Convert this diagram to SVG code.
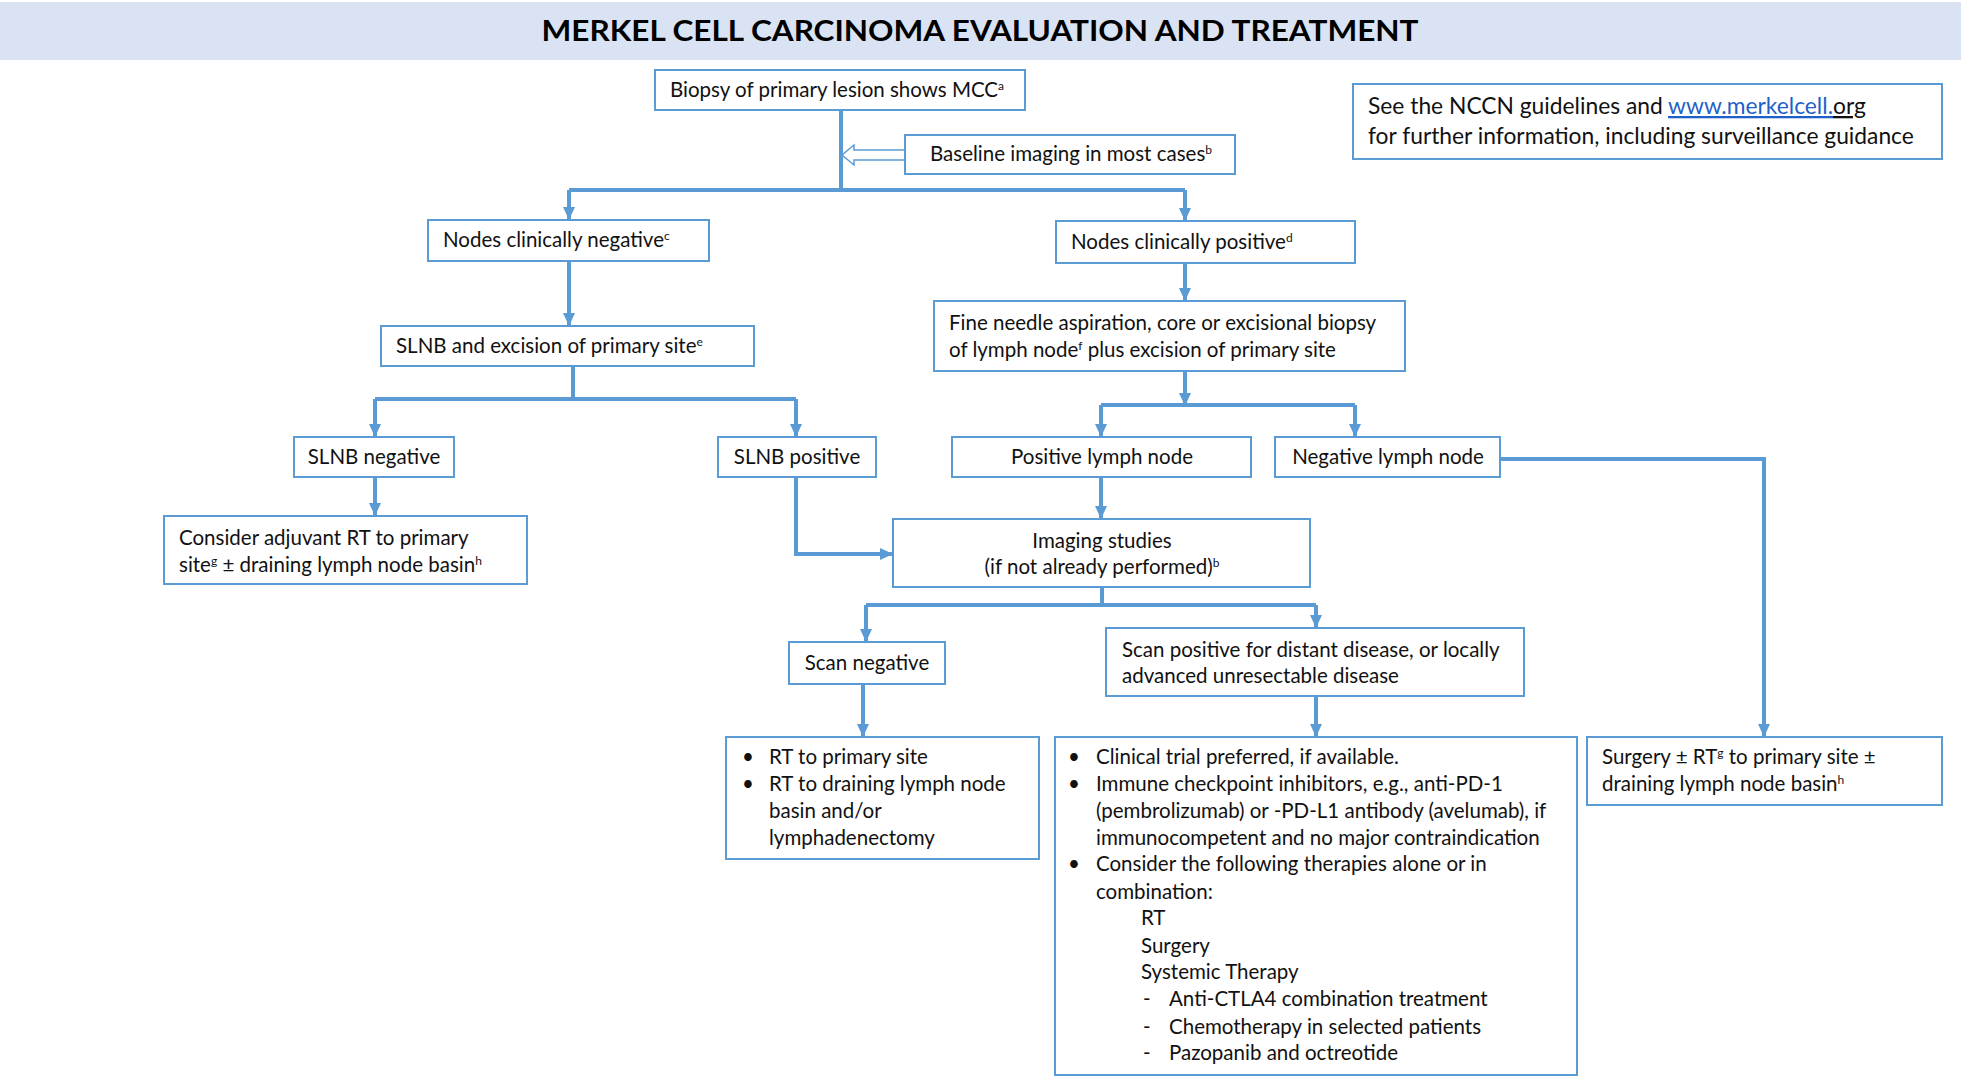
<svg xmlns="http://www.w3.org/2000/svg" width="1961" height="1081" viewBox="0 0 1961 1081">
<defs>
<marker id="ah" markerUnits="userSpaceOnUse" markerWidth="14" markerHeight="14" refX="12" refY="7" orient="auto">
<path d="M0,1 L13,7 L0,13 Z" fill="#5b9bd5"/>
</marker>
<style>
.box{fill:#ffffff;stroke:#5b9bd5;stroke-width:2}
.t{font-family:Lato,"Open Sans","Liberation Sans",sans-serif;font-size:20.5px;fill:#111111}
.c{text-anchor:middle}
.sup{font-size:12px}
.con{fill:none;stroke:#5b9bd5;stroke-width:4}
.arr{marker-end:url(#ah)}
</style>
</defs>
<rect width="1961" height="1081" fill="#ffffff"/>
<rect x="0" y="2" width="1961" height="58" fill="#dae3f3"/>
<text x="980" y="41" text-anchor="middle" textLength="877" lengthAdjust="spacingAndGlyphs" style="font-family:Lato,'Liberation Sans',sans-serif;font-weight:700;font-size:29px;fill:#000">MERKEL CELL CARCINOMA EVALUATION AND TREATMENT</text>

<g id="connectors">
<path class="con" d="M841,110 V190"/>
<path class="con" d="M569,190 H1185"/>
<path class="con arr" d="M569,190 V219"/>
<path class="con arr" d="M1185,190 V220"/>
<path d="M905,150 H854 V145 L842,155 L854,165 V160 H905" fill="#ffffff" stroke="#5b9bd5" stroke-width="1.5"/>
<path class="con arr" d="M569,261 V325"/>
<path class="con" d="M573,366 V399"/>
<path class="con" d="M375,399 H796"/>
<path class="con arr" d="M375,399 V436"/>
<path class="con arr" d="M796,399 V436"/>
<path class="con arr" d="M375,477 V515"/>
<path class="con arr" d="M796,477 V554 H892"/>
<path class="con arr" d="M1185,263 V300"/>
<path class="con arr" d="M1185,371 V405"/>
<path class="con" d="M1101,405 H1355"/>
<path class="con arr" d="M1101,405 V436"/>
<path class="con arr" d="M1355,405 V436"/>
<path class="con arr" d="M1101,477 V518"/>
<path class="con arr" d="M1500,459 H1764 V736"/>
<path class="con" d="M1102,587 V605"/>
<path class="con" d="M866,605 H1316"/>
<path class="con arr" d="M866,605 V641"/>
<path class="con arr" d="M1316,605 V627"/>
<path class="con arr" d="M863,684 V736"/>
<path class="con arr" d="M1316,696 V736"/>
</g>

<g id="biopsy">
<rect class="box" x="655" y="70" width="370" height="40"/>
<text class="t" x="670" y="97">Biopsy of primary lesion shows MCC<tspan class="sup" dy="-7">a</tspan></text>
</g>
<g id="baseline">
<rect class="box" x="905" y="135" width="330" height="39"/>
<text class="t" x="930" y="161">Baseline imaging in most cases<tspan class="sup" dy="-7">b</tspan></text>
</g>
<g id="nccn">
<rect class="box" x="1353" y="84" width="589" height="75"/>
<text class="t" x="1368" y="114" style="font-size:22.8px">See the NCCN guidelines and <tspan fill="#1f5fc9" text-decoration="underline">www.merkelcell.</tspan><tspan text-decoration="underline">org</tspan></text>
<text class="t" x="1368" y="144" style="font-size:22.8px">for further information, including surveillance guidance</text>
</g>
<g id="nodes-neg">
<rect class="box" x="428" y="220" width="281" height="41"/>
<text class="t" x="443" y="247">Nodes clinically negative<tspan class="sup" dy="-7">c</tspan></text>
</g>
<g id="nodes-pos">
<rect class="box" x="1056" y="221" width="299" height="42"/>
<text class="t" x="1071" y="249">Nodes clinically positive<tspan class="sup" dy="-7">d</tspan></text>
</g>
<g id="slnb-excision">
<rect class="box" x="381" y="326" width="373" height="40"/>
<text class="t" x="396" y="353">SLNB and excision of primary site<tspan class="sup" dy="-7">e</tspan></text>
</g>
<g id="fna">
<rect class="box" x="934" y="301" width="471" height="70"/>
<text class="t" x="949" y="330">Fine needle aspiration, core or excisional biopsy</text>
<text class="t" x="949" y="357">of lymph node<tspan class="sup" dy="-7">f</tspan><tspan dy="7"> plus excision of primary site</tspan></text>
</g>
<g id="slnb-neg">
<rect class="box" x="294" y="437" width="160" height="40"/>
<text class="t c" x="374" y="464">SLNB negative</text>
</g>
<g id="slnb-pos">
<rect class="box" x="718" y="437" width="158" height="40"/>
<text class="t c" x="797" y="464">SLNB positive</text>
</g>
<g id="pos-ln">
<rect class="box" x="952" y="437" width="299" height="40"/>
<text class="t c" x="1102" y="464">Positive lymph node</text>
</g>
<g id="neg-ln">
<rect class="box" x="1275" y="437" width="225" height="40"/>
<text class="t c" x="1388" y="464">Negative lymph node</text>
</g>
<g id="consider-rt">
<rect class="box" x="164" y="516" width="363" height="68"/>
<text class="t" x="179" y="545">Consider adjuvant RT to primary</text>
<text class="t" x="179" y="572">site<tspan class="sup" dy="-7">g</tspan><tspan dy="7"> ± draining lymph node basin</tspan><tspan class="sup" dy="-7">h</tspan></text>
</g>
<g id="imaging">
<rect class="box" x="893" y="519" width="417" height="68"/>
<text class="t c" x="1102" y="548">Imaging studies</text>
<text class="t c" x="1102" y="574">(if not already performed)<tspan class="sup" dy="-7">b</tspan></text>
</g>
<g id="scan-neg">
<rect class="box" x="789" y="642" width="156" height="42"/>
<text class="t c" x="867" y="670">Scan negative</text>
</g>
<g id="scan-pos">
<rect class="box" x="1106" y="628" width="418" height="68"/>
<text class="t" x="1122" y="657">Scan positive for distant disease, or locally</text>
<text class="t" x="1122" y="683">advanced unresectable disease</text>
</g>
<g id="rt-box">
<rect class="box" x="726" y="737" width="313" height="122"/>
<text class="t" x="742" y="764">•</text><text class="t" x="769" y="764">RT to primary site</text>
<text class="t" x="742" y="791">•</text><text class="t" x="769" y="791">RT to draining lymph node</text>
<text class="t" x="769" y="818">basin and/or</text>
<text class="t" x="769" y="845">lymphadenectomy</text>
</g>
<g id="systemic-box">
<rect class="box" x="1055" y="737" width="522" height="338"/>
<text class="t" x="1068" y="764">•</text><text class="t" x="1096" y="764">Clinical trial preferred, if available.</text>
<text class="t" x="1068" y="791">•</text><text class="t" x="1096" y="791">Immune checkpoint inhibitors, e.g., anti-PD-1</text>
<text class="t" x="1096" y="818">(pembrolizumab) or -PD-L1 antibody (avelumab), if</text>
<text class="t" x="1096" y="845">immunocompetent and no major contraindication</text>
<text class="t" x="1068" y="871">•</text><text class="t" x="1096" y="871">Consider the following therapies alone or in</text>
<text class="t" x="1096" y="899">combination:</text>
<text class="t" x="1141" y="925">RT</text>
<text class="t" x="1141" y="953">Surgery</text>
<text class="t" x="1141" y="979">Systemic Therapy</text>
<text class="t" x="1143" y="1006">-</text><text class="t" x="1169" y="1006">Anti-CTLA4 combination treatment</text>
<text class="t" x="1143" y="1034">-</text><text class="t" x="1169" y="1034">Chemotherapy in selected patients</text>
<text class="t" x="1143" y="1060">-</text><text class="t" x="1169" y="1060">Pazopanib and octreotide</text>
</g>
<g id="surgery">
<rect class="box" x="1587" y="737" width="355" height="68"/>
<text class="t" x="1602" y="764">Surgery ± RT<tspan class="sup" dy="-7">g</tspan><tspan dy="7"> to primary site ±</tspan></text>
<text class="t" x="1602" y="791">draining lymph node basin<tspan class="sup" dy="-7">h</tspan></text>
</g>
</svg>
